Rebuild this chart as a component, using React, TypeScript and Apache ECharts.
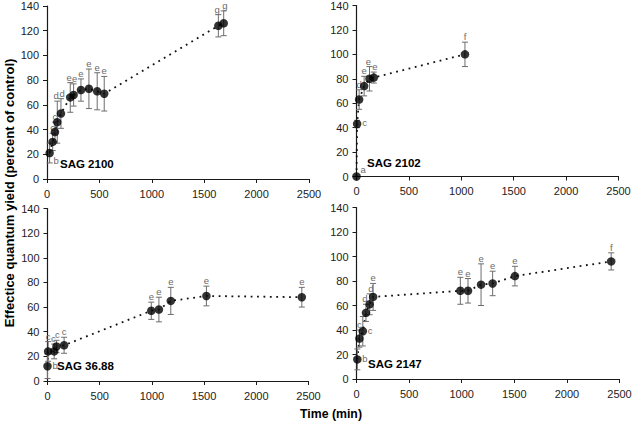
import React, { useEffect, useRef } from "react";
import * as echarts from "echarts";

// ---------- data ----------
const X_TICKS_MAX = 2500;
const Y_TICKS_MAX = 140;

const P1_NAME = "SAG 2100";
const P1_X = [25, 54, 76, 98, 133, 222, 254, 324, 400, 479, 546, 1635, 1686];
const P1_Y = [21, 30, 38, 46, 53, 66, 68, 72, 73, 71, 69, 124, 126];
const P1_ERR = [8, 7, 8, 17, 12, 12, 9, 9, 16, 15, 14, 9, 10];
const P1_LBL = ["b", "c", "c", "d", "d", "e", "e", "e", "e", "e", "e", "g", "g"];
const P1_POS = ["rb", "t", "t", "tl", "tr", "tl", "tr", "t", "t", "t", "t", "tl", "tr"];

const P2_NAME = "SAG 2102";
const P2_X = [0, 6, 25, 73, 124, 165, 1035];
const P2_Y = [0, 43, 63, 74, 80, 81, 100];
const P2_ERR = [0, 3, 8, 8, 10, 4.5, 10];
const P2_LBL = ["a", "c", "d", "e", "e", "e", "f"];
const P2_POS = ["ru", "r", "t", "t", "tl", "tr", "t"];

const P3_NAME = "SAG 36.88";
const P3_X = [0, 6, 64, 86, 159, 994, 1067, 1181, 1522, 2436];
const P3_Y = [12, 24, 24, 28, 29, 57, 58, 65, 69, 68];
const P3_ERR = [10, 8, 6, 5, 6.5, 7, 10, 11, 8, 8];
const P3_LBL = ["b", "c", "c", "c", "c", "e", "e", "e", "e", "e"];
const P3_POS = ["r", "t", "tl", "tr", "t", "t", "t", "t", "t", "t"];

const P4_NAME = "SAG 2147";
const P4_X = [8, 28, 60, 90, 125, 158, 987, 1060, 1184, 1294, 1506, 2421];
const P4_Y = [16, 33, 39, 54, 61, 67, 72, 72, 77, 78, 84, 96];
const P4_ERR = [8.5, 7, 12, 7, 8.5, 11, 11, 10, 17, 10, 8, 7];
const P4_LBL = ["b", "c", "c", "d", "d", "e", "e", "e", "e", "e", "e", "f"];
const P4_POS = ["r", "t", "r", "tl", "tr", "t", "t", "t", "t", "t", "t", "t"];

const Y_TITLE = "Effectice quantum yield (percent of control)";
const X_TITLE = "Time (min)";

const PANELS = [
  { name: P1_NAME, x: P1_X, y: P1_Y, err: P1_ERR, lbl: P1_LBL, pos: P1_POS },
  { name: P2_NAME, x: P2_X, y: P2_Y, err: P2_ERR, lbl: P2_LBL, pos: P2_POS },
  { name: P3_NAME, x: P3_X, y: P3_Y, err: P3_ERR, lbl: P3_LBL, pos: P3_POS },
  { name: P4_NAME, x: P4_X, y: P4_Y, err: P4_ERR, lbl: P4_LBL, pos: P4_POS },
];

// ---------- layout / style ----------
const GRIDS = [
  { left: 47, top: 6, width: 262, height: 173 },
  { left: 356.5, top: 4.5, width: 262, height: 172 },
  { left: 47.5, top: 208.5, width: 261, height: 172.5 },
  { left: 356.5, top: 207.5, width: 263, height: 171.5 },
];
const NAME_POS = [
  { x: 60, y: 164 },
  { x: 367, y: 163 },
  { x: 57, y: 366 },
  { x: 368, y: 364 },
];
const FONT = "Liberation Sans, Arial, Helvetica, sans-serif";
const AXIS_COLOR = "#1a1a1a";
const BAR_COLOR = "#6d6d6d";
const LETTER_COLOR = "#6a6a6a";

export default function App() {
  const ref = useRef<HTMLDivElement>(null);
  useEffect(() => {
    if (!ref.current) return;
    const chart = echarts.init(ref.current, undefined, { renderer: "svg" });

    const xAxis: any[] = [];
    const yAxis: any[] = [];
    const series: any[] = [];
    const graphic: any[] = [];

    PANELS.forEach((p, i) => {
      xAxis.push({
        type: "value",
        gridIndex: i,
        min: 0,
        max: X_TICKS_MAX,
        interval: 500,
        axisLine: { show: true, onZero: false, lineStyle: { color: AXIS_COLOR, width: 1.2 } },
        axisTick: { show: true, length: 4, lineStyle: { color: AXIS_COLOR } },
        splitLine: { show: false },
        axisLabel: {
          fontFamily: FONT,
          fontSize: 11,
          color: "#222",
          margin: 9,
          formatter: (v: number) => String(v),
        },
      });
      yAxis.push({
        type: "value",
        gridIndex: i,
        min: 0,
        max: Y_TICKS_MAX,
        interval: 20,
        axisLine: { show: true, onZero: false, lineStyle: { color: AXIS_COLOR, width: 1.2 } },
        axisTick: { show: true, length: 4, lineStyle: { color: AXIS_COLOR } },
        splitLine: { show: false },
        axisLabel: { fontFamily: FONT, fontSize: 11, color: "#222", margin: 8 },
      });

      const pts = p.x.map((xv, k) => [xv, p.y[k]]);
      series.push({
        type: "line",
        xAxisIndex: i,
        yAxisIndex: i,
        data: pts,
        symbol: "none",
        lineStyle: { color: "#111", width: 1.8, type: [1.8, 4.6] },
        z: 1,
      });
      series.push({
        type: "custom",
        xAxisIndex: i,
        yAxisIndex: i,
        data: p.x.map((xv, k) => [xv, p.y[k], p.err[k], k]),
        z: 2,
        renderItem: (params: any, api: any) => {
          const xv = api.value(0);
          const yv = api.value(1);
          const e = api.value(2);
          const k = api.value(3);
          const c = api.coord([xv, yv]);
          const top = api.coord([xv, yv + e]);
          const bot = api.coord([xv, Math.max(0, yv - e)]);
          const children: any[] = [];
          const ls = { stroke: BAR_COLOR, lineWidth: 1 };
          if (e > 0) {
            children.push({ type: "line", shape: { x1: top[0], y1: top[1], x2: bot[0], y2: bot[1] }, style: ls });
            children.push({ type: "line", shape: { x1: top[0] - 3, y1: top[1], x2: top[0] + 3, y2: top[1] }, style: ls });
            children.push({ type: "line", shape: { x1: bot[0] - 3, y1: bot[1], x2: bot[0] + 3, y2: bot[1] }, style: ls });
          }
          const pos = p.pos[k];
          let tx = c[0];
          let ty = top[1] - 0.5;
          let align = "center";
          let valign = "bottom";
          if (pos === "tl") {
            tx = c[0] + 1.5;
            align = "right";
          } else if (pos === "tr") {
            tx = c[0] - 1.5;
            align = "left";
          } else if (pos === "r") {
            tx = c[0] + 5;
            ty = c[1] - 1;
            align = "left";
            valign = "middle";
          } else if (pos === "rb") {
            tx = c[0] + 4;
            ty = c[1] + 2;
            align = "left";
            valign = "top";
          } else if (pos === "ru") {
            tx = c[0] + 4;
            ty = c[1] - 2;
            align = "left";
            valign = "bottom";
          }
          children.push({
            type: "text",
            x: tx,
            y: ty,
            style: {
              text: p.lbl[k],
              fill: LETTER_COLOR,
              fontFamily: FONT,
              fontSize: 9.5,
              align,
              verticalAlign: valign,
            },
          });
          return { type: "group", children };
        },
      });
      series.push({
        type: "scatter",
        xAxisIndex: i,
        yAxisIndex: i,
        data: pts,
        symbol: "circle",
        symbolSize: 8.5,
        itemStyle: { color: "#000" },
        z: 3,
      });

      graphic.push({
        type: "text",
        x: NAME_POS[i].x,
        y: NAME_POS[i].y,
        style: {
          text: p.name,
          fill: "#000",
          fontFamily: FONT,
          fontWeight: "bold",
          fontSize: 11.5,
          verticalAlign: "middle",
        },
      });
    });

    graphic.push({
      type: "text",
      x: 9,
      y: 193,
      rotation: Math.PI / 2,
      style: {
        text: Y_TITLE,
        fill: "#000",
        fontFamily: FONT,
        fontWeight: "bold",
        fontSize: 13,
        align: "center",
        verticalAlign: "middle",
      },
    });
    graphic.push({
      type: "text",
      x: 331,
      y: 414,
      style: {
        text: X_TITLE,
        fill: "#000",
        fontFamily: FONT,
        fontWeight: "bold",
        fontSize: 12.3,
        align: "center",
        verticalAlign: "middle",
      },
    });

    chart.setOption({
      animation: false,
      backgroundColor: "#fff",
      grid: GRIDS.map((g) => ({ ...g, containLabel: false })),
      xAxis,
      yAxis,
      series,
      graphic,
    });
    return () => chart.dispose();
  }, []);

  return <div ref={ref} style={{ width: 635, height: 422, position: "absolute", left: 0, top: 0 }} />;
}
